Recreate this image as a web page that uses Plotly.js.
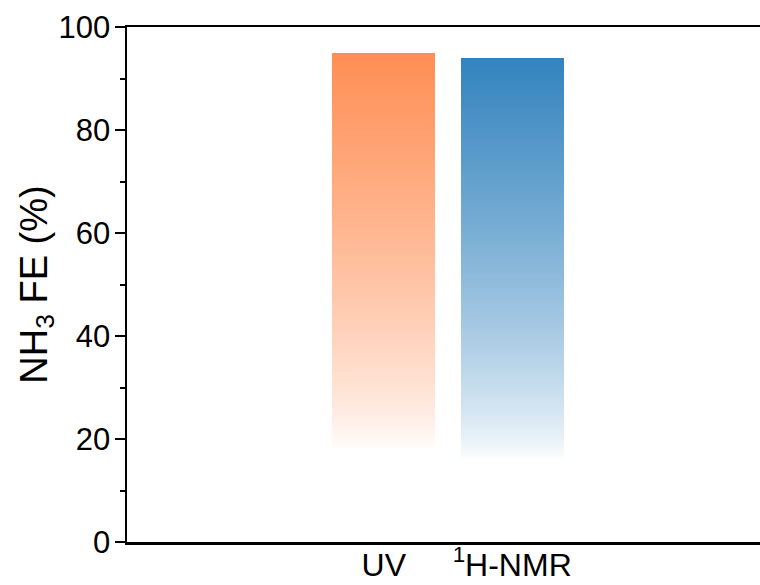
<!DOCTYPE html>
<html>
<head>
<meta charset="utf-8">
<script src="https://cdn.plot.ly/plotly-3.0.1.min.js"></script>
<style>html,body{margin:0;padding:0;background:#fff;}#chart{width:760px;height:585px;}</style>
</head>
<body>
<div id="chart"></div>
<script>
// ---- data ----
var categories = ['UV', '<sup>1</sup>H-NMR'];
var feValues = [95.0, 94.0];
var yTickVals = [0, 20, 40, 60, 80, 100];
var yTickText = ['0', '20', '40', '60', '80', '100'];

// ---- style ----
var topColors = [[255, 142, 84], [51, 131, 190]];
var fadeStart = [18, 16];   // level (axis units) where gradient reaches white
var gamma = 0.75;
var step = 0.25;

var maxV = Math.max.apply(null, feValues);
var nSeg = Math.ceil(maxV / step);
var traces = [];
for (var k = 0; k < nSeg; k++) {
  var ys = [], cols = [];
  for (var i = 0; i < categories.length; i++) {
    var v = feValues[i];
    var lo = k * step;
    var h = Math.max(0, Math.min(step, v - lo));
    ys.push(h);
    var mid = lo + h / 2;
    var a = (mid - fadeStart[i]) / (v - fadeStart[i]);
    a = Math.max(0, Math.min(1, a));
    a = Math.pow(a, gamma);
    var c = topColors[i];
    var r = Math.round(255 + (c[0] - 255) * a);
    var g = Math.round(255 + (c[1] - 255) * a);
    var b = Math.round(255 + (c[2] - 255) * a);
    cols.push('rgb(' + r + ',' + g + ',' + b + ')');
  }
  traces.push({
    type: 'bar', x: categories, y: ys,
    marker: {color: cols, line: {width: 0}},
    width: 0.8, hoverinfo: 'skip', showlegend: false
  });
}

var font = 'Liberation Sans, Arial, sans-serif';
var layout = {
  width: 760, height: 585,
  margin: {l: 127, r: 0, t: 27, b: 43},
  paper_bgcolor: '#fff', plot_bgcolor: '#fff',
  barmode: 'stack', bargap: 0.2,
  showlegend: false,
  font: {family: font, color: '#000', size: 31},
  xaxis: {
    type: 'category', range: [-2, 2.93],
    showline: true, linecolor: '#000', linewidth: 2.5, mirror: true,
    ticks: '', showgrid: false, zeroline: false,
    ticklabelstandoff: -7,
    tickfont: {family: font, size: 32, color: '#000'}
  },
  yaxis: {
    range: [0, 100], tickvals: yTickVals, ticktext: yTickText,
    showline: true, linecolor: '#000', linewidth: 2.5, mirror: false,
    ticks: 'outside', ticklen: 10, tickwidth: 2, tickcolor: '#000',
    ticklabelstandoff: -2,
    minor: {dtick: 10, ticks: 'outside', ticklen: 5, tickwidth: 2, tickcolor: '#000', showgrid: false},
    showgrid: false, zeroline: false,
    tickfont: {family: font, size: 31, color: '#000'},
    title: {text: 'NH<sub>3</sub> FE (%)', font: {family: font, size: 38, color: '#000'}, standoff: 0}
  }
};

Plotly.newPlot('chart', traces, layout, {staticPlot: true, displayModeBar: false});
</script>
</body>
</html>
